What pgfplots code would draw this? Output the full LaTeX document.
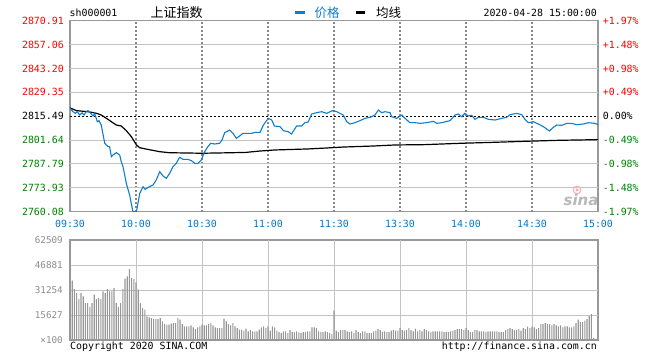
\documentclass[border=0pt]{standalone}
\usepackage{pgfplots}
\pgfplotsset{compat=1.18}
\usepackage{fontspec}
\setmainfont{DejaVu Sans}
\newfontfamily\monof{DejaVu Sans Mono}
\newfontfamily\cjk{Noto Sans CJK SC}
\definecolor{pblue}{RGB}{16,124,204}
\definecolor{xblue}{RGB}{0,120,210}
\definecolor{dgreen}{RGB}{0,128,0}
\definecolor{pred}{RGB}{255,0,0}
\definecolor{axc}{RGB}{153,153,153}
\definecolor{gridc}{RGB}{135,135,135}
\definecolor{gridl}{RGB}{195,195,195}
\definecolor{volc}{RGB}{150,150,150}
\definecolor{vlab}{RGB}{140,140,140}
\newcommand\mf{\monof\fontsize{9.9}{11}\selectfont}
\newcommand\mfs{\monof\fontsize{9.3}{11}\selectfont}
\pgfplotsset{gl/.style={gridc, line width=1.25pt, dash pattern=on 2pt off 2pt},
             gs/.style={gridl, line width=1pt, solid}}
\begin{document}
\begin{tikzpicture}[x=1pt,y=1pt]
\useasboundingbox (0,0) rectangle (660,360);
% watermark
\draw[red!30, line width=1.2pt] (577,170) circle (3.8);
\fill[red!35] (577,170) circle (1.6);
\node[anchor=center, inner sep=0pt, text=black!28] at (581,160) {\fontsize{15}{15}\selectfont\bfseries\itshape sina};
% top texts
\node[anchor=west, inner sep=0pt] at (69.5,347) {\mf sh000001};
\node[anchor=west, inner sep=0pt] at (150.5,347) {\cjk\fontsize{13}{13}\selectfont 上证指数};
\draw[pblue, line width=3pt] (295,347.5) -- (305,347.5);
\node[anchor=west, inner sep=0pt, text=pblue] at (314.5,347) {\cjk\fontsize{12.5}{13}\selectfont 价格};
\draw[black, line width=3pt] (356,347.5) -- (365,347.5);
\node[anchor=west, inner sep=0pt] at (376,347) {\cjk\fontsize{12.5}{13}\selectfont 均线};
\node[anchor=east, inner sep=0pt] at (597,347) {\mf 2020-04-28 15:00:00};
\node[anchor=base west, inner sep=0pt] at (70,10.3) {\mf Copyright 2020 SINA.COM};
\node[anchor=base east, inner sep=0pt] at (597,10.3) {\mf http://finance.sina.com.cn};

% price axis
\begin{axis}[
  at={(70pt,148.3pt)}, anchor=south west, scale only axis,
  width=528pt, height=191pt,
  xmin=0, xmax=240, ymin=2760.08, ymax=2870.91,
  xtick={0,30,...,240},
  xticklabels={09:30,10:00,10:30,11:00,11:30,13:30,14:00,14:30,15:00},
  ytick={2760.08,2773.93,2787.79,2801.64,2815.49,2829.35,2843.20,2857.06,2870.91},
  yticklabels={\textcolor{dgreen}{2760.08},\textcolor{dgreen}{2773.93},\textcolor{dgreen}{2787.79},\textcolor{dgreen}{2801.64},\textcolor{black}{2815.49},\textcolor{pred}{2829.35},\textcolor{pred}{2843.20},\textcolor{pred}{2857.06},\textcolor{pred}{2870.91}},
  major tick length=0pt, tick style={draw=none},
  axis line style={axc, line width=1.1pt},
  xticklabel style={font=\mf, text=xblue, anchor=north, inner sep=0pt, yshift=-8.2pt},
  yticklabel style={font=\mf, anchor=east, inner sep=0pt, xshift=-6pt},
  scaled ticks=false,
]
\addplot[gl] coordinates {(30,2760.08) (30,2870.91)};
\addplot[gl] coordinates {(60,2760.08) (60,2870.91)};
\addplot[gl] coordinates {(90,2760.08) (90,2870.91)};
\addplot[gl] coordinates {(120,2760.08) (120,2870.91)};
\addplot[gl] coordinates {(150,2760.08) (150,2870.91)};
\addplot[gl] coordinates {(180,2760.08) (180,2870.91)};
\addplot[gl] coordinates {(210,2760.08) (210,2870.91)};
\addplot[gs] coordinates {(0,2773.93) (240,2773.93)};
\addplot[gs] coordinates {(0,2787.79) (240,2787.79)};
\addplot[gs] coordinates {(0,2801.64) (240,2801.64)};
\addplot[gs] coordinates {(0,2829.35) (240,2829.35)};
\addplot[gs] coordinates {(0,2843.20) (240,2843.20)};
\addplot[gs] coordinates {(0,2857.06) (240,2857.06)};
\addplot[black, line width=1pt, dash pattern=on 2pt off 2pt] coordinates {(0,2815.49) (240,2815.49)};
\addplot[black, line width=1.2pt] coordinates {
(0,2820.3) (3,2818.7) (8.2,2818.1) (12,2817.2) (14.2,2816.2) (16.5,2814.3) (18.8,2812.3)
(21,2810.4) (23.3,2809.8) (25.6,2807.1) (27.9,2803.6) (30.2,2798.8) (31.7,2797.2)
(35.5,2796.2) (40.8,2794.9) (45.3,2794.3) (60,2794.0) (73.3,2794.3) (80,2794.5)
(86.4,2795.3) (93.2,2795.9) (108.3,2796.5) (115.9,2797.0) (124.2,2797.6) (137.9,2798.2)
(147.7,2798.8) (161.4,2799.0) (178,2799.8) (191.7,2800.3) (206,2800.9) (221.9,2801.5) (240,2801.9)};
\addplot[pblue, line width=1.1pt] table {
t p
0 2820.06
1.4 2818.12
2.4 2817.15
3.3 2818.12
4.4 2816.19
5.5 2817.5
6.4 2816.19
7.4 2818.12
8.2 2818.70
9.4 2817.15
10.5 2815.61
11.2 2817.15
12.4 2812.32
13.2 2812.90
14.2 2810.38
15.8 2799.75
17.3 2797.81
18.0 2797.81
18.8 2792.01
19.5 2792.97
21.1 2794.33
22.6 2792.97
23.3 2789.11
24.1 2786.20
25.6 2776.53
27.1 2769.76
28.6 2760.09
30.2 2760.09
31.7 2770.73
33.2 2774.60
34.2 2773.05
35.5 2774.21
37.7 2775.56
39.2 2778.47
40.8 2783.30
42.3 2780.79
43.8 2779.44
45.3 2782.34
46.8 2786.20
48.3 2788.14
49.8 2791.62
51.4 2790.46
53.6 2790.46
55.2 2789.69
56.7 2788.14
58.2 2788.14
59.7 2790.07
61.2 2794.91
62.7 2797.81
63.9 2799.75
65.8 2799.36
68.0 2799.75
69.1 2801.68
70.3 2805.93
72.6 2807.48
74.1 2805.55
75.6 2802.65
77.1 2804.0
78.6 2805.55
80.9 2805.55
82.6 2805.55
84.1 2806.13
86.4 2806.13
87.9 2810.38
89.0 2812.32
90.2 2814.25
91.7 2813.29
92.9 2809.80
95.5 2809.42
97.0 2807.09
99.2 2806.51
100.7 2805.16
103.0 2809.80
105.3 2809.80
106.8 2811.74
108.3 2812.12
109.8 2816.77
112.1 2817.54
114.4 2818.12
116.7 2817.15
119.2 2818.70
121.2 2818.12
122.7 2817.15
124.2 2816.19
125.8 2812.32
127.3 2810.96
129.5 2811.74
131.8 2812.90
134.1 2814.25
136.4 2814.83
138.6 2816.19
140.2 2819.09
141.7 2817.54
143.2 2818.12
145.5 2817.54
146.2 2815.22
148.5 2814.25
150.8 2816.19
152.3 2814.25
154.5 2811.74
156.8 2811.74
159.1 2811.35
162.1 2811.74
165.2 2812.51
166.7 2811.35
168.9 2811.74
172.7 2812.90
175.0 2816.19
176.5 2816.77
178.0 2815.22
179.5 2817.15
181.0 2815.61
182.6 2816.00
184.1 2813.67
185.6 2814.83
187.9 2814.83
190.2 2813.67
193.2 2813.29
196.2 2814.25
198.5 2814.83
200.0 2816.38
203.0 2817.15
205.3 2816.38
206.8 2813.67
208.3 2811.74
210.6 2812.32
212.9 2810.96
215.2 2809.42
217.9 2806.90
219.7 2809.03
221.2 2810.38
223.5 2810.19
225.8 2811.35
228.0 2811.35
230.3 2810.58
233.3 2810.96
235.6 2811.74
238.6 2811.35
240 2810.58
};
\end{axis}

% right percent labels
\begin{axis}[
  at={(70pt,148.3pt)}, anchor=south west, scale only axis,
  width=528pt, height=191pt,
  xmin=0, xmax=240, ymin=2760.08, ymax=2870.91,
  hide x axis, axis line style={draw=none},
  yticklabel pos=right,
  ytick={2760.08,2773.93,2787.79,2801.64,2815.49,2829.35,2843.20,2857.06,2870.91},
  yticklabels={\textcolor{dgreen}{-1.97\%},\textcolor{dgreen}{-1.48\%},\textcolor{dgreen}{-0.98\%},\textcolor{dgreen}{-0.49\%},\textcolor{black}{0.00\%},\textcolor{pred}{+0.49\%},\textcolor{pred}{+0.98\%},\textcolor{pred}{+1.48\%},\textcolor{pred}{+1.97\%}},
  major tick length=0pt, tick style={draw=none},
  yticklabel style={font=\mf, anchor=west, inner sep=0pt, xshift=4.7pt},
  scaled ticks=false,
]
\addplot[draw=none] coordinates {(0,2815.49) (240,2815.49)};
\end{axis}

% volume axis
\begin{axis}[
  at={(70pt,20pt)}, anchor=south west, scale only axis,
  width=528pt, height=100pt,
  xmin=0, xmax=240, ymin=0, ymax=62509,
  xtick={0,30,...,240}, xticklabels={},
  ytick={0,15627,31254,46881,62509},
  yticklabels={×100,15627,31254,46881,62509},
  major tick length=0pt, tick style={draw=none},
  axis line style={axc, line width=1.1pt},
  yticklabel style={font=\mfs, text=vlab, anchor=east, inner sep=0pt, xshift=-7pt},
  scaled ticks=false,
]
\addplot[gs] coordinates {(30,0) (30,62509)};
\addplot[gs] coordinates {(60,0) (60,62509)};
\addplot[gs] coordinates {(90,0) (90,62509)};
\addplot[gs] coordinates {(120,0) (120,62509)};
\addplot[gs] coordinates {(150,0) (150,62509)};
\addplot[gs] coordinates {(180,0) (180,62509)};
\addplot[gs] coordinates {(210,0) (210,62509)};
\addplot[gs] coordinates {(0,15627) (240,15627)};
\addplot[gs] coordinates {(0,31254) (240,31254)};
\addplot[gs] coordinates {(0,46881) (240,46881)};
\addplot[ybar, bar width=1.1pt, bar shift=0pt, fill=volc, draw=none] table {
t v
0 62509
1 37088
2 31879
3 29379
4 25628
5 29379
6 27295
7 23128
8 23128
9 20628
10 23128
11 28337
12 25628
13 26253
14 25628
15 30421
16 29379
17 31879
18 30421
19 30421
20 32504
21 23128
22 20628
23 23128
24 31879
25 38338
26 39797
27 44381
28 38755
29 38130
30 36046
31 31462
32 23128
33 20003
34 18961
35 14793
36 14168
37 13752
38 13127
39 13127
40 13127
41 13752
42 11668
43 10001
44 9585
45 9585
46 10210
47 10626
48 10626
49 13752
50 12710
51 10001
52 8543
53 8543
54 8543
55 9168
56 7918
57 6876
58 7918
59 8543
60 9585
61 9168
62 9168
63 10001
64 10626
65 9168
66 7918
67 7501
68 7501
69 7501
70 13335
71 11668
72 10001
73 9168
74 10626
75 8543
76 7501
77 6459
78 6459
79 5834
80 7084
81 5417
82 6251
83 5417
84 5417
85 5417
86 6459
87 7918
88 8543
89 7501
90 8543
91 5834
92 8543
93 7918
94 5834
95 5000
96 4376
97 5417
98 5417
99 4376
100 6251
101 5000
102 4792
103 5417
104 4792
105 4376
106 5000
107 5000
108 5417
109 5417
110 7918
111 7918
112 7501
113 5417
114 5000
115 5000
116 5417
117 5000
118 4376
119 3750
120 18336
121 5834
122 5000
123 6251
124 6251
125 6251
126 5417
127 5000
128 5417
129 4376
130 6251
131 5000
132 4376
133 5417
134 5417
135 4376
136 4376
137 4376
138 5417
139 5834
140 6876
141 6251
142 5000
143 5417
144 5000
145 5000
146 5834
147 6251
148 5834
149 5834
150 7501
151 6251
152 5834
153 6251
154 7501
155 6251
156 5417
157 7084
158 5417
159 6251
160 5417
161 6876
162 6251
163 5417
164 5000
165 5417
166 5417
167 5417
168 5417
169 5417
170 5000
171 5000
172 5000
173 5417
174 5834
175 6251
176 6876
177 6876
178 6876
179 6251
180 7501
181 6251
182 5000
183 5000
184 6251
185 6251
186 5417
187 5417
188 5417
189 5000
190 5417
191 5417
192 5417
193 5417
194 5417
195 5000
196 5000
197 5000
198 6251
199 6876
200 7501
201 6876
202 6251
203 6251
204 6876
205 5834
206 7501
207 6876
208 8334
209 7501
210 8334
211 7918
212 6876
213 7501
214 10001
215 10001
216 10626
217 10001
218 10001
219 9168
220 10001
221 9168
222 8543
223 9168
224 7918
225 8543
226 8543
227 7918
228 7918
229 8543
230 10626
231 12710
232 11251
233 11251
234 12085
235 13127
236 15002
237 16252
238 1250
};
\end{axis}
\end{tikzpicture}
\end{document}
